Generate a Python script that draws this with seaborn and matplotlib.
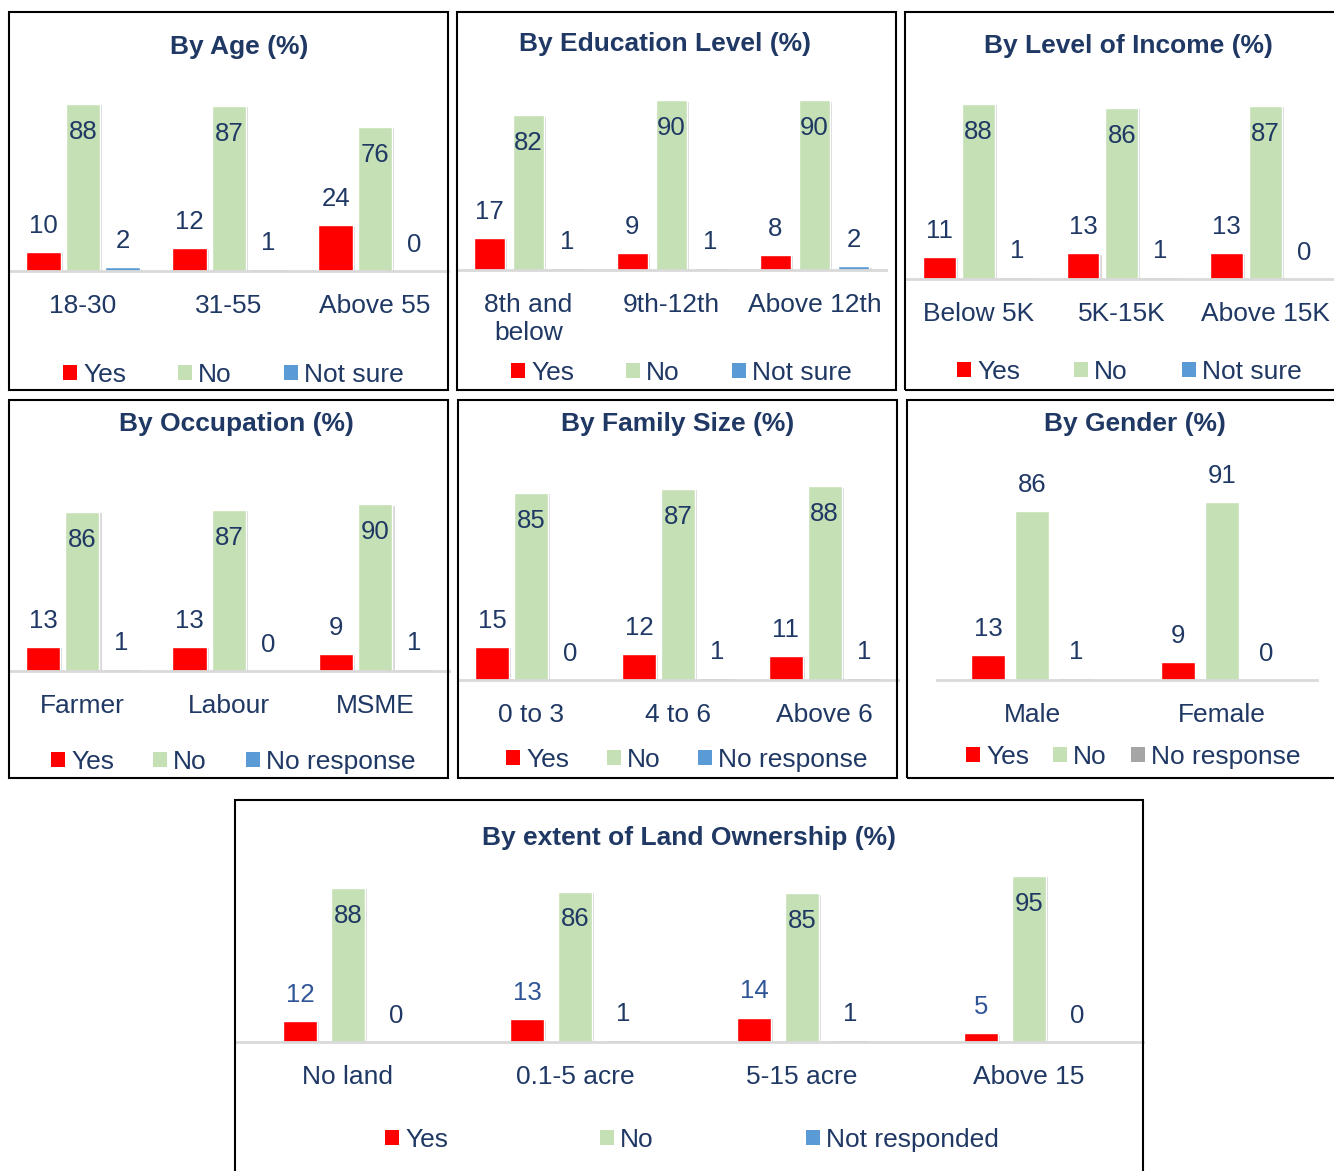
import pandas as pd
import seaborn as sns
import matplotlib.pyplot as plt
import matplotlib.patheffects as pe
from matplotlib.patches import Rectangle, Patch

W, H = 1334, 1171
NAVY = "#1F3864"
RED, GREEN, BLUE, GREY = "#FF0000", "#C5E0B4", "#5B9BD5", "#A5A5A5"

# ---- data ----
age_cats = ["18-30", "31-55", "Above 55"]
age_yes = [10, 12, 24]
age_no = [88, 87, 76]
age_unsure = [2, 1, 0]

edu_cats = ["8th and\nbelow", "9th-12th", "Above 12th"]
edu_yes = [17, 9, 8]
edu_no = [82, 90, 90]
edu_unsure = [1, 1, 2]

inc_cats = ["Below 5K", "5K-15K", "Above 15K"]
inc_yes = [11, 13, 13]
inc_no = [88, 86, 87]
inc_unsure = [1, 1, 0]

occ_cats = ["Farmer", "Labour", "MSME"]
occ_yes = [13, 13, 9]
occ_no = [86, 87, 90]
occ_nr = [1, 0, 1]

fam_cats = ["0 to 3", "4 to 6", "Above 6"]
fam_yes = [15, 12, 11]
fam_no = [85, 87, 88]
fam_nr = [0, 1, 1]

gen_cats = ["Male", "Female"]
gen_yes = [13, 9]
gen_no = [86, 91]
gen_nr = [1, 0]

land_cats = ["No land", "0.1-5 acre", "5-15 acre", "Above 15"]
land_yes = [12, 13, 14, 5]
land_no = [88, 86, 85, 95]
land_nr = [0, 1, 1, 0]

sns.set_style("white")
plt.rcParams["font.family"] = ["Liberation Sans", "DejaVu Sans"]


def fx(x):
    return x / W


def fy(y):
    return 1 - y / H


panels = [
    dict(title="By Age (%)", tx=239, ty=47, cats=age_cats,
         series=[("Yes", age_yes, RED), ("No", age_no, GREEN), ("Not sure", age_unsure, BLUE)],
         box=(9, 12, 448, 390), ax=(10, 448, 271, 1.9), leg=(63, 375, 1.97),
         width=0.81, gap=0.13, inside=True, shadow=True, yes_col=NAVY),
    dict(title="By Education Level (%)", tx=665, ty=44, cats=edu_cats,
         series=[("Yes", edu_yes, RED), ("No", edu_no, GREEN), ("Not sure", edu_unsure, BLUE)],
         box=(457, 12, 896, 390), ax=(457, 886, 270, 1.885), leg=(511, 373, 1.97),
         width=0.82, gap=0.19, inside=True, shadow=True, yes_col=NAVY),
    dict(title="By Level of Income (%)", tx=1128, ty=46, cats=inc_cats,
         series=[("Yes", inc_yes, RED), ("No", inc_no, GREEN), ("Not sure", inc_unsure, BLUE)],
         box=(905, 12, 1345, 390), ax=(906.5, 1337, 279, 1.99), leg=(957, 372, 2.05),
         width=0.81, gap=0.15, inside=True, shadow=True, yes_col=NAVY),
    dict(title="By Occupation (%)", tx=236, ty=424, cats=occ_cats,
         series=[("Yes", occ_yes, RED), ("No", occ_no, GREEN), ("No response", occ_nr, BLUE)],
         box=(9, 400, 448, 778), ax=(9, 448.5, 671, 1.85), leg=(51, 762, 1.48),
         width=0.80, gap=0.12, inside=True, shadow=True, yes_col=NAVY),
    dict(title="By Family Size (%)", tx=678, ty=424, cats=fam_cats,
         series=[("Yes", fam_yes, RED), ("No", fam_no, GREEN), ("No response", fam_nr, BLUE)],
         box=(458, 400, 897, 778), ax=(458, 898, 680, 2.2), leg=(506, 760, 1.42),
         width=0.80, gap=0.13, inside=True, shadow=True, yes_col=NAVY),
    dict(title="By Gender (%)", tx=1135, ty=424, cats=gen_cats,
         series=[("Yes", gen_yes, RED), ("No", gen_no, GREEN), ("No response", gen_nr, GREY)],
         box=(907, 400, 1345, 778), ax=(937, 1317, 680, 1.96), leg=(966, 757, 0.91),
         width=0.695, gap=0.23, inside=False, shadow=False, yes_col=NAVY),
    dict(title="By extent of Land Ownership (%)", tx=689, ty=838, cats=land_cats,
         series=[("Yes", land_yes, RED), ("No", land_no, GREEN), ("Not responded", land_nr, BLUE)],
         box=(235, 800, 1143, 1185), ax=(234.5, 1142.5, 1042, 1.75), leg=(385, 1140, 5.76),
         width=0.634, gap=0.31, inside=True, shadow=True, yes_col="#2F5597"),
]

fig = plt.figure(figsize=(W / 100, H / 100), dpi=100)

for p in panels:
    left, right, base, scale = p["ax"]
    ax = fig.add_axes([fx(left), fy(base), (right - left) / W, 100 * scale / H])
    ax.patch.set_alpha(0)

    names = [s[0] for s in p["series"]]
    rows = []
    for name, vals, _ in p["series"]:
        for c, v in zip(p["cats"], vals):
            rows.append({"cat": c, "resp": name, "val": v})
    df = pd.DataFrame(rows)
    pal = {s[0]: s[2] for s in p["series"]}

    sns.barplot(data=df, x="cat", y="val", hue="resp", hue_order=names,
                palette=pal, saturation=1, errorbar=None, width=p["width"],
                gap=p["gap"], legend=False, ax=ax)
    ax.set_ylim(0, 100)
    ax.set_xlim(-0.5, len(p["cats"]) - 0.5)

    for name, cont in zip(names, ax.containers):
        for bar in cont:
            v = bar.get_height()
            if name == "No" and p["inside"]:
                off = -28
            else:
                off = 26
            col = p["yes_col"] if name == "Yes" else NAVY
            ax.annotate(f"{v:.0f}", (bar.get_x() + bar.get_width() / 2, v),
                        xytext=(0, off), textcoords="offset pixels",
                        ha="center", va="center", fontsize=18.5, color=col)
            if p["shadow"] and v > 0:
                bar.set_path_effects([pe.SimplePatchShadow(offset=(1.5, -1), shadow_rgbFace="#7f7f7f", alpha=0.3),
                                      pe.Normal()])

    ax.set_xlabel("")
    ax.set_ylabel("")
    ax.set_yticks([])
    ax.tick_params(axis="x", length=0, pad=16.5, labelsize=19, labelcolor=NAVY)
    for s in ["left", "top", "right"]:
        ax.spines[s].set_visible(False)
    ax.spines["bottom"].set_color("#D9D9D9")
    ax.spines["bottom"].set_linewidth(2)

    handles = [Patch(facecolor=s[2], edgecolor="none") for s in p["series"]]
    lx, ly, cs = p["leg"]
    ax.legend(handles, names, loc="center left", bbox_to_anchor=(fx(lx), fy(ly)),
              bbox_transform=fig.transFigure, ncol=len(names), frameon=False,
              fontsize=19, handlelength=0.53, handleheight=0.53, handletextpad=0.23,
              columnspacing=cs, borderpad=0, borderaxespad=0, labelcolor=NAVY)

    fig.text(fx(p["tx"]), fy(p["ty"]), p["title"], ha="center", va="center",
             fontsize=19, fontweight="bold", color=NAVY)

    x0, y0, x1, y1 = p["box"]
    fig.add_artist(Rectangle((fx(x0), fy(y1)), (x1 - x0) / W, (y1 - y0) / H,
                             transform=fig.transFigure, fill=False,
                             edgecolor="black", linewidth=1.5, zorder=10))

fig.savefig("out.png", dpi=100)
